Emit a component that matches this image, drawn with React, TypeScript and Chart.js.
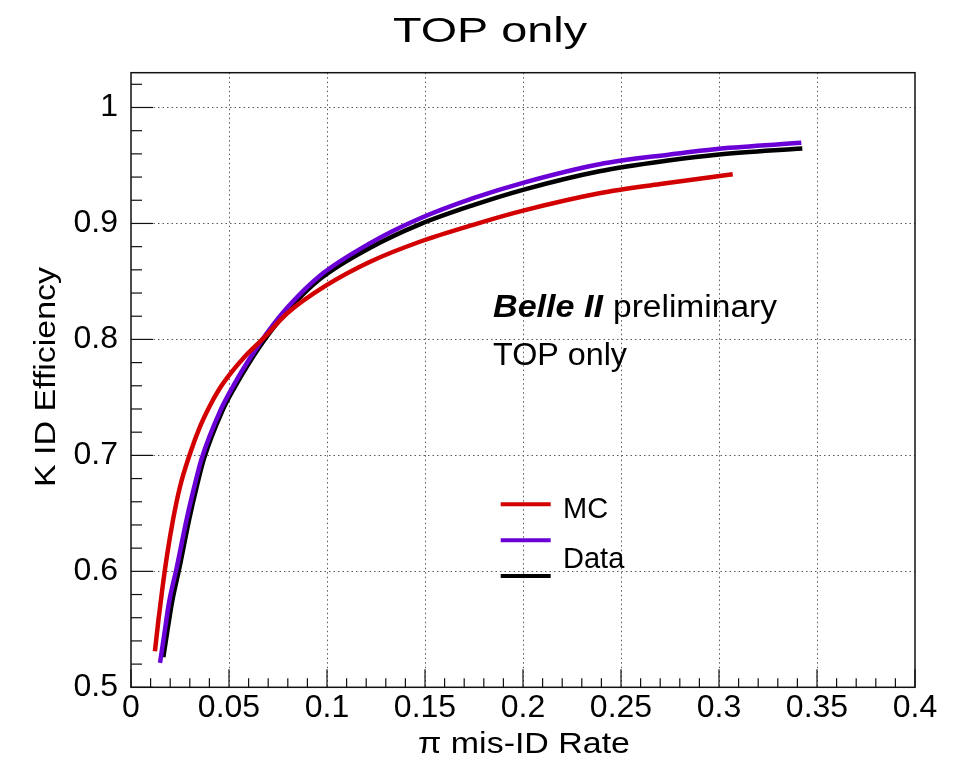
import React, { useEffect, useRef } from "react";
import { Chart, registerables } from "chart.js";

Chart.register(...registerables);

// ---- Data ----
const mcX = [0.0122, 0.014, 0.016, 0.0185, 0.0215, 0.025, 0.03, 0.035, 0.04, 0.045, 0.0505, 0.058, 0.067, 0.08, 0.1, 0.122, 0.147, 0.175, 0.2, 0.239, 0.27, 0.307];
const mcY = [0.531, 0.558, 0.585, 0.615, 0.645, 0.673, 0.701, 0.724, 0.742, 0.757, 0.77, 0.785, 0.8, 0.823, 0.847, 0.867, 0.884, 0.899, 0.911, 0.926, 0.934, 0.9425];

const dataX = [0.0148, 0.017, 0.0195, 0.0233, 0.0284, 0.0326, 0.036, 0.0454, 0.0522, 0.06, 0.07, 0.08, 0.0964, 0.122, 0.147, 0.175, 0.2, 0.239, 0.275, 0.3, 0.342];
const dataY = [0.521, 0.546, 0.574, 0.603, 0.645, 0.675, 0.697, 0.738, 0.76, 0.782, 0.807, 0.828, 0.855, 0.883, 0.904, 0.922, 0.935, 0.951, 0.9595, 0.9645, 0.9695];

const refX = [0.0165, 0.0185, 0.021, 0.0247, 0.0297, 0.0338, 0.0372, 0.0465, 0.053, 0.06, 0.07, 0.08, 0.0964, 0.122, 0.147, 0.175, 0.2, 0.239, 0.275, 0.3, 0.3425];
const refY = [0.526, 0.548, 0.574, 0.603, 0.645, 0.675, 0.697, 0.738, 0.759, 0.779, 0.804, 0.825, 0.852, 0.879, 0.899, 0.916, 0.929, 0.945, 0.9545, 0.9595, 0.9647];

const seriesLabels = ["MC", "Data", ""];
const seriesColors = ["#d20000", "#6a00d6", "#000000"];

const xTicks = [0, 0.05, 0.1, 0.15, 0.2, 0.25, 0.3, 0.35, 0.4];
const xTickLabels = ["0", "0.05", "0.1", "0.15", "0.2", "0.25", "0.3", "0.35", "0.4"];
const yTicks = [0.5, 0.6, 0.7, 0.8, 0.9, 1.0];
const yTickLabels = ["0.5", "0.6", "0.7", "0.8", "0.9", "1"];

const titleText = "TOP only";
const xTitle = "\u03C0 mis-ID Rate";
const yTitle = "K ID Efficiency";
const noteBold = "Belle II";
const noteRest = "preliminary";
const noteLine2 = "TOP only";

const FONT = "'Liberation Sans', Arial, Helvetica, sans-serif";

function fitText(
  ctx: CanvasRenderingContext2D,
  text: string,
  x: number,
  y: number,
  font: string,
  targetWidth: number,
  align: "left" | "center"
) {
  ctx.save();
  ctx.font = font;
  ctx.textBaseline = "alphabetic";
  ctx.textAlign = "left";
  const w = ctx.measureText(text).width;
  const sx = targetWidth / w;
  const startX = align === "center" ? x - targetWidth / 2 : x;
  ctx.translate(startX, y);
  ctx.scale(sx, 1);
  ctx.fillStyle = "#000";
  ctx.fillText(text, 0, 0);
  ctx.restore();
}

const decorPlugin = {
  id: "rootDecor",
  beforeDatasetsDraw(chart: any) {
    const { ctx, chartArea, scales } = chart;
    const xs = scales.x;
    const ys = scales.y;
    ctx.save();
    ctx.strokeStyle = "#5a5a5a";
    ctx.lineWidth = 1;
    ctx.setLineDash([1.5, 3]);
    xTicks.forEach((v) => {
      const px = Math.round(xs.getPixelForValue(v)) + 0.5;
      if (px <= chartArea.left + 1 || px >= chartArea.right - 1) return;
      ctx.beginPath();
      ctx.moveTo(px, chartArea.top);
      ctx.lineTo(px, chartArea.bottom);
      ctx.stroke();
    });
    yTicks.forEach((v) => {
      const py = Math.round(ys.getPixelForValue(v)) + 0.5;
      if (py <= chartArea.top + 1 || py >= chartArea.bottom - 1) return;
      ctx.beginPath();
      ctx.moveTo(chartArea.left, py);
      ctx.lineTo(chartArea.right, py);
      ctx.stroke();
    });
    ctx.restore();
  },
  afterDatasetsDraw(chart: any) {
    const { ctx, chartArea, scales } = chart;
    const xs = scales.x;
    const ys = scales.y;
    ctx.save();
    // frame
    ctx.setLineDash([]);
    ctx.strokeStyle = "#111";
    ctx.lineWidth = 1.5;
    ctx.strokeRect(chartArea.left, chartArea.top, chartArea.right - chartArea.left, chartArea.bottom - chartArea.top);
    // ticks
    ctx.lineWidth = 1.2;
    for (let i = 0; i <= 40; i++) {
      const v = i * 0.01;
      const px = xs.getPixelForValue(v);
      const major = i % 5 === 0;
      ctx.beginPath();
      ctx.moveTo(px, chartArea.bottom);
      ctx.lineTo(px, chartArea.bottom - (major ? 18 : 9));
      ctx.stroke();
    }
    for (let i = 0; i <= 26; i++) {
      const v = 0.5 + i * 0.02;
      const py = ys.getPixelForValue(v);
      if (py < chartArea.top) continue;
      const major = i % 5 === 0;
      ctx.beginPath();
      ctx.moveTo(chartArea.left, py);
      ctx.lineTo(chartArea.left + (major ? 22 : 11), py);
      ctx.stroke();
    }
    // legend
    const ds = chart.data.datasets;
    const legendY = [504.3, 540.3, 576];
    ds.forEach((d: any, i: number) => {
      ctx.strokeStyle = d.borderColor;
      ctx.lineWidth = 4;
      ctx.beginPath();
      ctx.moveTo(500.7, legendY[i]);
      ctx.lineTo(550.7, legendY[i]);
      ctx.stroke();
    });
    ctx.fillStyle = "#000";
    ctx.font = `29px ${FONT}`;
    ctx.textBaseline = "alphabetic";
    ctx.textAlign = "left";
    ctx.fillText(ds[0].label, 563, 518);
    ctx.fillText(ds[1].label, 563, 568);
    if (ds[2].label) ctx.fillText(ds[2].label, 563, 600);
    // annotation
    fitText(ctx, noteBold, 493, 317, `italic bold 31px ${FONT}`, 110, "left");
    fitText(ctx, noteRest, 613, 317, `31px ${FONT}`, 164, "left");
    fitText(ctx, noteLine2, 493, 365, `31px ${FONT}`, 134, "left");
    ctx.restore();
  },
  afterDraw(chart: any) {
    const { ctx } = chart;
    fitText(ctx, titleText, 490, 42, `35px ${FONT}`, 194, "center");
    fitText(ctx, xTitle, 524, 753.3, `29px ${FONT}`, 212, "center");
    ctx.save();
    ctx.translate(55, 377);
    ctx.rotate(-Math.PI / 2);
    fitText(ctx, yTitle, 0, 0, `29px ${FONT}`, 220, "center");
    ctx.restore();
  },
};

function toPoints(xs: number[], ys: number[]) {
  return xs.map((x, i) => ({ x, y: ys[i] }));
}

export default function App() {
  const canvasRef = useRef<HTMLCanvasElement | null>(null);

  useEffect(() => {
    document.body.style.margin = "0";
    const canvas = canvasRef.current;
    if (!canvas) return;
    const mk = (i: number, xs: number[], ys: number[]) => ({
      label: seriesLabels[i],
      data: toPoints(xs, ys),
      borderColor: seriesColors[i],
      backgroundColor: seriesColors[i],
      borderWidth: 4.5,
      showLine: true,
      pointRadius: 0,
      cubicInterpolationMode: "monotone" as const,
      fill: false,
    });
    const chart = new Chart(canvas, {
      type: "scatter",
      data: {
        datasets: [mk(0, mcX, mcY), mk(1, dataX, dataY), mk(2, refX, refY)],
      },
      options: {
        responsive: false,
        animation: false,
        devicePixelRatio: 1,
        layout: { padding: { top: 72.7, right: 51, left: 0, bottom: 0 } },
        plugins: {
          legend: { display: false },
          tooltip: { enabled: false },
          title: { display: false },
        },
        scales: {
          x: {
            type: "linear",
            min: 0,
            max: 0.4,
            grid: { display: false },
            border: { display: false },
            afterBuildTicks: (s: any) => {
              s.ticks = xTicks.map((v) => ({ value: v }));
            },
            afterFit: (s: any) => {
              s.height = 72.7;
            },
            ticks: {
              autoSkip: false,
              maxRotation: 0,
              minRotation: 0,
              padding: 0,
              color: "#000",
              font: { family: FONT, size: 32, lineHeight: 0.8 },
              callback: (_v: any, i: number) => xTickLabels[i],
            },
          },
          y: {
            type: "linear",
            min: 0.5,
            max: 1.03,
            grid: { display: false },
            border: { display: false },
            afterBuildTicks: (s: any) => {
              s.ticks = yTicks.map((v) => ({ value: v }));
            },
            afterFit: (s: any) => {
              s.width = 131;
            },
            ticks: {
              autoSkip: false,
              padding: 5,
              color: "#000",
              font: { family: FONT, size: 32 },
              callback: (_v: any, i: number) => yTickLabels[i],
            },
          },
        },
      } as any,
      plugins: [decorPlugin],
    });
    return () => chart.destroy();
  }, []);

  return (
    <div style={{ width: 966, height: 760, background: "#fff" }}>
      <canvas ref={canvasRef} width={966} height={760} style={{ display: "block" }} />
    </div>
  );
}
